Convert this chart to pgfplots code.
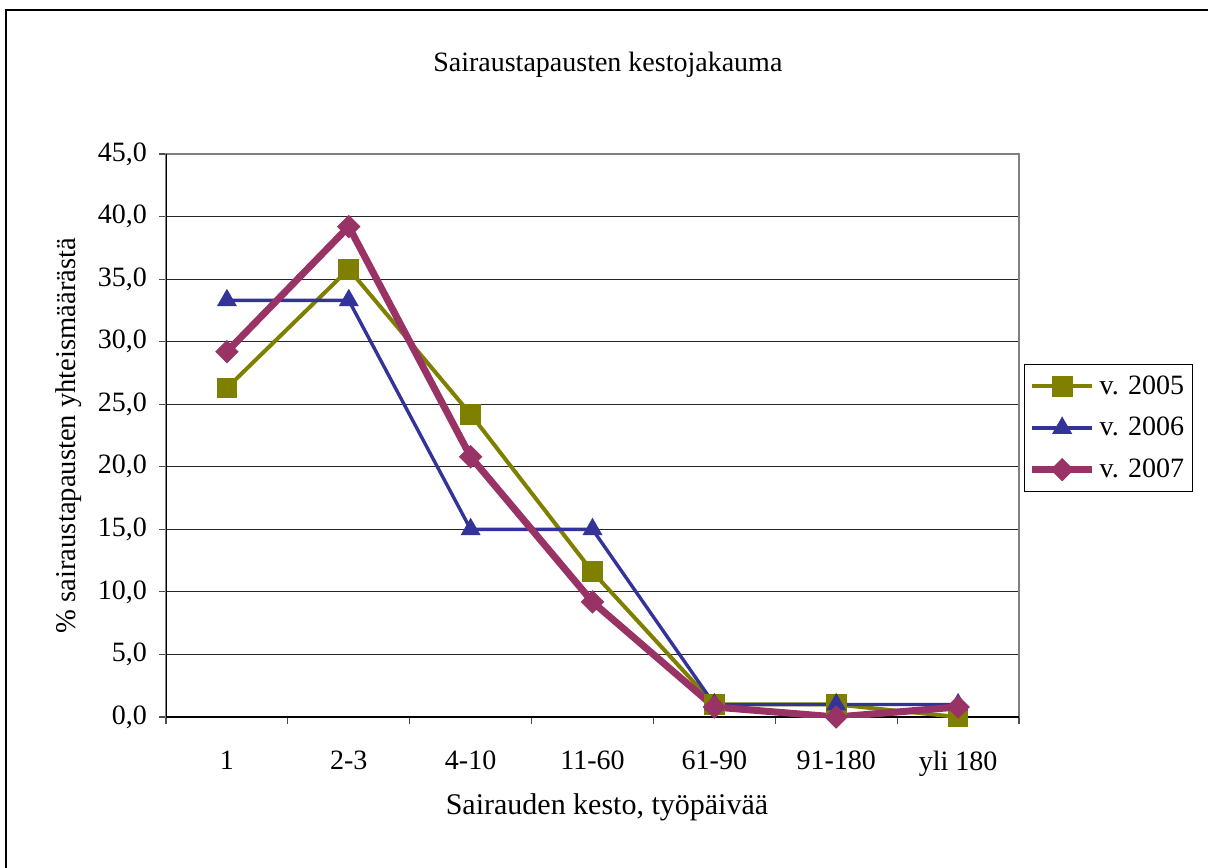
\documentclass[border=0pt]{standalone}
\usepackage{pgfplots}
\pgfplotsset{compat=1.18}
\usepackage{fontspec}
\setmainfont{Liberation Serif}
\definecolor{c05}{HTML}{808000}
\definecolor{c06}{HTML}{333399}
\definecolor{c07}{HTML}{993366}
\newcommand{\chfont}{\fontsize{14}{16.5}\selectfont}
\newcommand{\lbfont}{\fontsize{14.3}{17}\selectfont}
\begin{document}
\begin{tikzpicture}
\useasboundingbox (0,0) rectangle (604pt,433.5pt);
\draw[line width=1pt] (3pt,-10pt) -- (3pt,428.5pt) -- (620pt,428.5pt);
\begin{axis}[
  at={(83pt,75pt)}, anchor=south west,
  scale only axis, width=426.5pt, height=281.5pt,
  xmin=-0.5, xmax=6.5, ymin=0, ymax=45,
  xtick={-0.5,0.5,...,6.5}, xticklabels={},
  extra x ticks={0,1,2,3,4,5,6},
  extra x tick labels={1,2-3,4-10,11-60,61-90,91-180,yli 180},
  extra x tick style={major tick length=0pt, grid=none,
     xticklabel style={yshift=-13.5pt}},
  ytick={0,5,...,45},
  xtick pos=left, ytick pos=left,
  tick align=outside, major tick length=3.5pt,
  tick style={black!70, line width=0.6pt},
  ymajorgrids, major grid style={black!85, line width=0.5pt},
  axis line style={black!50, line width=0.8pt},
  /pgf/number format/.cd, use comma, fixed, fixed zerofill, precision=1, assume math mode=true,
  /pgfplots/.cd,
  yticklabel style={xshift=-2.5pt},
  tick label style={font=\chfont},
  label style={font=\lbfont},
  title style={font=\fontsize{14}{16.5}\selectfont, at={(axis description cs:0.518,1.138)}, anchor=center},
  title={Sairaustapausten kestojakauma},
  xlabel={Sairauden kesto, työpäivää},
  ylabel={\% sairaustapausten yhteismäärästä},
  xlabel style={font=\fontsize{15}{17.5}\selectfont, at={(axis description cs:0.517,-0.16)}, anchor=center},
  ylabel style={at={(axis description cs:-0.114,0.5)}, anchor=center},
  legend style={at={(rel axis cs:1.0059,0.627)}, anchor=north west,
     draw=black, line width=0.6pt, font=\chfont, row sep=6pt,
     inner xsep=2pt, inner ysep=3.5pt, legend cell align=left},
  legend image code/.code={\draw[mark repeat=2,mark phase=2] plot coordinates {(0pt,0pt)(15pt,0pt)(30pt,0pt)};},
]
\draw[black, line width=1.2pt] (rel axis cs:0,1) -- (rel axis cs:0,0) -- (rel axis cs:1,0);
\addplot[c05, line width=2pt, mark=square*, mark size=4.2pt, mark options={solid}]
  coordinates {(0,26.3) (1,35.8) (2,24.2) (3,11.6) (4,1.0) (5,1.0) (6,0.0)};
\addlegendentry{v. 2005}
\addplot[c06, line width=1.7pt, mark=triangle*, mark size=4.1pt, mark options={solid}]
  coordinates {(0,33.3) (1,33.3) (2,15.0) (3,15.0) (4,1.0) (5,1.0) (6,1.0)};
\addlegendentry{v. 2006}
\addplot[c07, line width=3.5pt, mark=square*, mark size=3.9pt, mark options={solid, rotate=45, line width=0.5pt}]
  coordinates {(0,29.2) (1,39.2) (2,20.8) (3,9.2) (4,0.8) (5,0.0) (6,0.8)};
\addlegendentry{v. 2007}
\end{axis}
\end{tikzpicture}
\end{document}
